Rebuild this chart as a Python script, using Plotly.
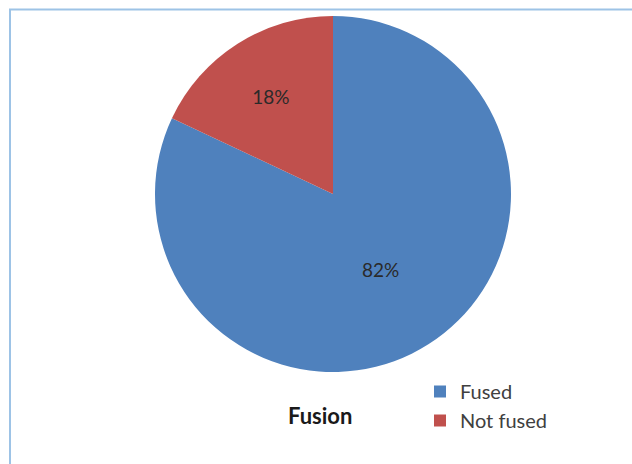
import plotly.graph_objects as go

categories = ["Fused", "Not fused"]
values = [82, 18]
colors = ["#4F81BD", "#C0504D"]
chart_title = "Fusion"

W, H = 632, 464

fig = go.Figure()
fig.add_trace(go.Pie(
    labels=categories,
    values=values,
    sort=False,
    direction="clockwise",
    rotation=0,
    marker=dict(colors=colors, line=dict(color="rgba(0,0,0,0)", width=0)),
    texttemplate="%{percent:.0%}",
    textposition="inside",
    insidetextorientation="horizontal",
    textfont=dict(family="Lato, Open Sans, sans-serif", size=19, color="#2a2a2a"),
    domain=dict(x=[(333 - 178) / W, (333 + 178) / W], y=[1 - 372 / H, 1 - 16 / H]),
    hoverinfo="label+percent",
))

fig.update_layout(
    width=W, height=H,
    margin=dict(l=0, r=0, t=0, b=0),
    paper_bgcolor="white",
    plot_bgcolor="white",
    showlegend=True,
    legend=dict(
        x=420 / W, y=1 - 372 / H, xanchor="left", yanchor="top",
        font=dict(family="Lato, Open Sans, sans-serif", size=20, color="#404040"),
        bgcolor="rgba(0,0,0,0)",
        itemwidth=30,
    ),
    annotations=[dict(
        text="<b>" + chart_title + "</b>",
        x=320 / W, y=1 - 415 / H, xref="paper", yref="paper",
        xanchor="center", yanchor="middle", showarrow=False,
        font=dict(family="Lato, Open Sans, sans-serif", size=22, color="#1a1a1a"),
    )],
    shapes=[dict(
        type="rect", xref="paper", yref="paper",
        x0=10 / W, x1=1.05, y0=-0.05, y1=1 - 9.5 / H,
        line=dict(color="#9DC3E6", width=2), fillcolor="rgba(0,0,0,0)",
        layer="below",
    )],
)

fig.write_html("out.html")
